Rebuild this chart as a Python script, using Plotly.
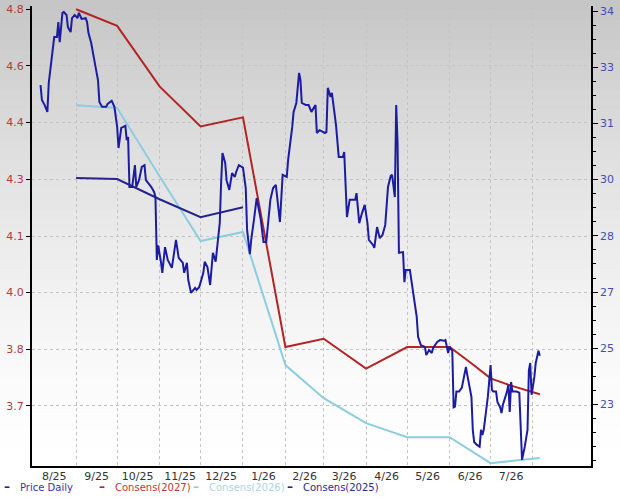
import plotly.graph_objects as go

# daily closing price (right axis)
price_dates = [
    "2025-08-06", "2025-08-07", "2025-08-09", "2025-08-11", "2025-08-12", "2025-08-14", "2025-08-16",
    "2025-08-18", "2025-08-19", "2025-08-20", "2025-08-22", "2025-08-23", "2025-08-25", "2025-08-26",
    "2025-08-28", "2025-08-29", "2025-08-31", "2025-09-02", "2025-09-03", "2025-09-05", "2025-09-08",
    "2025-09-09", "2025-09-10", "2025-09-12", "2025-09-15", "2025-09-16", "2025-09-17", "2025-09-18",
    "2025-09-20", "2025-09-23", "2025-09-24", "2025-09-27", "2025-09-29", "2025-10-01", "2025-10-02",
    "2025-10-04", "2025-10-07", "2025-10-08", "2025-10-09", "2025-10-10", "2025-10-12", "2025-10-14",
    "2025-10-15", "2025-10-17", "2025-10-19", "2025-10-21", "2025-10-22", "2025-10-26", "2025-10-28",
    "2025-10-29", "2025-10-30", "2025-10-31", "2025-11-02", "2025-11-03", "2025-11-05", "2025-11-07",
    "2025-11-10", "2025-11-13", "2025-11-15", "2025-11-18", "2025-11-19", "2025-11-21", "2025-11-22",
    "2025-11-24", "2025-11-27", "2025-11-28", "2025-11-30", "2025-12-03", "2025-12-04", "2025-12-06",
    "2025-12-08", "2025-12-10", "2025-12-12", "2025-12-13", "2025-12-15", "2025-12-16", "2025-12-17",
    "2025-12-19", "2025-12-20", "2025-12-22", "2025-12-24", "2025-12-26", "2025-12-27", "2025-12-29",
    "2026-01-01", "2026-01-03", "2026-01-04", "2026-01-06", "2026-01-07", "2026-01-09", "2026-01-11",
    "2026-01-14", "2026-01-16", "2026-01-18", "2026-01-21", "2026-01-23", "2026-01-25", "2026-01-28",
    "2026-01-30", "2026-02-02", "2026-02-03", "2026-02-06", "2026-02-07", "2026-02-09", "2026-02-11",
    "2026-02-12", "2026-02-13", "2026-02-16", "2026-02-18", "2026-02-20", "2026-02-23", "2026-02-24",
    "2026-02-26", "2026-03-02", "2026-03-03", "2026-03-04", "2026-03-06", "2026-03-07", "2026-03-09",
    "2026-03-10", "2026-03-12", "2026-03-15", "2026-03-16", "2026-03-17", "2026-03-18", "2026-03-20",
    "2026-03-24", "2026-03-25", "2026-03-27", "2026-03-29", "2026-03-31", "2026-04-02", "2026-04-03",
    "2026-04-06", "2026-04-07", "2026-04-09", "2026-04-11", "2026-04-13", "2026-04-15", "2026-04-17",
    "2026-04-19", "2026-04-20", "2026-04-22", "2026-04-23", "2026-04-24", "2026-04-25", "2026-04-27",
    "2026-04-28", "2026-04-29", "2026-04-30", "2026-05-03", "2026-05-05", "2026-05-06", "2026-05-08",
    "2026-05-09", "2026-05-11", "2026-05-14", "2026-05-15", "2026-05-17", "2026-05-19", "2026-05-20",
    "2026-05-23", "2026-05-25", "2026-05-28", "2026-05-29", "2026-05-31", "2026-06-01", "2026-06-03",
    "2026-06-04", "2026-06-05", "2026-06-06", "2026-06-08", "2026-06-10", "2026-06-13", "2026-06-14",
    "2026-06-17", "2026-06-18", "2026-06-19", "2026-06-21", "2026-06-23", "2026-06-24", "2026-06-25",
    "2026-06-26", "2026-06-29", "2026-07-01", "2026-07-02", "2026-07-03", "2026-07-05", "2026-07-06",
    "2026-07-08", "2026-07-09", "2026-07-10", "2026-07-13", "2026-07-14", "2026-07-15", "2026-07-16",
    "2026-07-17", "2026-07-20", "2026-07-22", "2026-07-23", "2026-07-24", "2026-07-26", "2026-07-28",
    "2026-07-29", "2026-07-30", "2026-07-31", "2026-08-02", "2026-08-03", "2026-08-05", "2026-08-06",
]
price_values = [
    31.93, 31.51, 31.37, 31.18, 31.99, 32.71, 33.27,
    33.27, 33.69, 33.13, 33.95, 33.97, 33.89, 33.55,
    33.41, 33.80, 33.89, 33.80, 33.95, 33.78, 33.80,
    33.69, 33.39, 33.11, 32.55, 32.27, 32.07, 31.46,
    31.32, 31.32, 31.40, 31.49, 31.32, 30.76, 30.17,
    30.73, 30.79, 30.39, 30.48, 29.08, 29.08, 29.69,
    29.08, 29.27, 29.64, 29.69, 29.27, 29.08, 28.94,
    28.80, 27.04, 27.45, 26.99, 26.68, 27.40, 27.04,
    26.82, 27.60, 27.10, 26.96, 26.68, 26.96, 26.48,
    26.12, 26.26, 26.20, 26.28, 26.68, 26.99, 26.84,
    26.34, 27.24, 26.99, 27.32, 28.07, 29.19, 30.03,
    29.75, 29.27, 29.00, 29.47, 29.36, 29.50, 29.69,
    29.62, 29.05, 27.88, 27.20, 27.60, 28.16, 28.77,
    28.16, 27.54, 27.54, 28.72, 29.05, 29.14, 28.10,
    29.42, 29.36, 29.84, 30.76, 31.18, 31.43, 32.27,
    32.07, 31.43, 31.37, 31.37, 31.18, 31.37, 30.59,
    30.67, 30.59, 30.62, 31.85, 31.60, 31.71, 31.18,
    30.81, 29.92, 29.92, 30.06, 28.91, 28.24, 28.72,
    28.72, 28.91, 28.07, 28.35, 28.58, 28.07, 27.60,
    27.46, 27.38, 27.96, 27.65, 27.74, 28.02, 29.08,
    29.39, 29.42, 28.80, 31.37, 30.31, 27.24, 27.24,
    27.26, 26.42, 26.76, 26.76, 26.20, 26.00, 25.45,
    24.89, 24.66, 24.61, 24.38, 24.52, 24.44, 24.58,
    24.75, 24.80, 24.78, 24.80, 24.44, 24.62, 24.50,
    22.92, 22.94, 23.36, 23.36, 23.47, 24.05, 23.82,
    23.21, 22.29, 21.95, 21.87, 21.82, 22.29, 22.15,
    22.29, 23.21, 24.10, 23.41, 23.36, 23.36, 23.07,
    22.92, 22.76, 22.99, 23.36, 23.55, 22.79, 23.63,
    23.36, 23.36, 23.33, 22.37, 21.45, 21.82, 22.29,
    23.96, 24.16, 23.27, 23.77, 24.16, 24.50, 24.36,
]

# consensus EPS estimates (left axis)
cons2027_dates = ["2025-09-01", "2025-10-01", "2025-11-01", "2025-12-01", "2026-01-01", "2026-02-01",
                  "2026-03-01", "2026-04-01", "2026-05-01", "2026-06-01", "2026-06-16", "2026-07-01",
                  "2026-07-16", "2026-08-01", "2026-08-06"]
cons2027_values = [4.800, 4.754, 4.586, 4.475, 4.500, 3.863, 3.886, 3.803, 3.863, 3.863, 3.821, 3.776,
                   3.756, 3.738, 3.732]

cons2026_dates = ["2025-09-01", "2025-10-01", "2025-11-01", "2025-12-01", "2026-01-01", "2026-02-01",
                  "2026-03-01", "2026-04-01", "2026-05-01", "2026-06-01", "2026-07-01", "2026-08-06"]
cons2026_values = [4.534, 4.526, 4.337, 4.157, 4.182, 3.813, 3.721, 3.652, 3.613, 3.613, 3.541, 3.555]

cons2025_dates = ["2025-09-01", "2025-10-01", "2025-11-01", "2025-12-01", "2026-01-01"]
cons2025_values = [4.332, 4.329, 4.273, 4.223, 4.251]

# axis ticks (labels as printed on the chart)
eps_tickvals = [3.7, 3.857, 4.014, 4.171, 4.329, 4.486, 4.643, 4.8]
eps_ticktext = ["3.7", "3.8", "4.0", "4.1", "4.3", "4.4", "4.6", "4.8"]
price_tickvals = [23, 24.571, 26.143, 27.714, 29.286, 30.857, 32.429, 34]
price_ticktext = ["23", "25", "27", "28", "30", "31", "33", "34"]
month_starts = ["2025-09-01", "2025-10-01", "2025-11-01", "2025-12-01", "2026-01-01", "2026-02-01",
                "2026-03-01", "2026-04-01", "2026-05-01", "2026-06-01", "2026-07-01", "2026-08-01"]
month_mids = ["2025-08-16", "2025-09-16", "2025-10-16", "2025-11-16", "2025-12-16", "2026-01-16",
              "2026-02-15", "2026-03-16", "2026-04-16", "2026-05-16", "2026-06-16", "2026-07-16"]
month_labels = ["8/25", "9/25", "10/25", "11/25", "12/25", "1/26", "2/26", "3/26", "4/26", "5/26",
                "6/26", "7/26"]

W, H = 620, 499
ml, mr, mt, mb = 32, 29, 6, 33
ph = H - mt - mb
pw = W - ml - mr

fig = go.Figure()
fig.add_trace(go.Scatter(x=price_dates, y=price_values, mode="lines", name="Price Daily",
                         yaxis="y2", line=dict(color="#1c1ca2", width=2)))
fig.add_trace(go.Scatter(x=cons2027_dates, y=cons2027_values, mode="lines", name="Consens(2027)",
                         line=dict(color="#b32424", width=2)))
fig.add_trace(go.Scatter(x=cons2026_dates, y=cons2026_values, mode="lines", name="Consens(2026)",
                         line=dict(color="#8ecde0", width=2)))
fig.add_trace(go.Scatter(x=cons2025_dates, y=cons2025_values, mode="lines", name="Consens(2025)",
                         line=dict(color="#24248a", width=2)))

# grey-to-white background, drawn as thin bands
shapes = []
n = 50
for i in range(n):
    p0 = i * H / n
    p1 = (i + 1) * H / n + 1
    t = max(0.0, 1 - (p0 + p1) / 2 / 470)
    c = int(round(255 - 58 * t ** 1.5))
    shapes.append(dict(type="rect", xref="paper", yref="paper", layer="below",
                       x0=-ml / pw - 0.01, x1=1 + mr / pw + 0.01,
                       y0=(H - mb - p1) / ph, y1=(H - mb - p0) / ph,
                       line=dict(width=0), fillcolor=f"rgb({c},{c},{c})"))

# legend written as text under the axis: coloured dash + coloured name
legend_items = [("Price Daily", "#1c1ca2", "#3636a8", 3),
                ("Consens(2027)", "#b32424", "#c03838", 98),
                ("Consens(2026)", "#8ecde0", "#a9d6e6", 192),
                ("Consens(2025)", "#24248a", "#2a2a88", 286)]
annotations = []
for label, lc, tc, px in legend_items:
    annotations.append(dict(xref="paper", yref="paper", x=(px - ml) / pw, y=(H - mb - 487) / ph,
                            xanchor="left", yanchor="middle", showarrow=False, borderpad=0,
                            text=f"<b><span style='color:{lc};font-size:12px'>–</span></b>\u2003{label}",
                            font=dict(family="DejaVu Sans", size=10, color=tc)))

fig.update_layout(
    width=W, height=H,
    margin=dict(l=ml, r=mr, t=mt, b=mb, autoexpand=False),
    paper_bgcolor="white", plot_bgcolor="rgba(0,0,0,0)",
    showlegend=False,
    shapes=shapes, annotations=annotations,
    font=dict(family="DejaVu Sans", size=11),
    xaxis=dict(
        type="date", range=["2025-07-30 18:00", "2026-09-12 10:00"], automargin=False,
        tickmode="array", tickvals=month_mids, ticktext=month_labels,
        ticks="", showgrid=False, tickfont=dict(color="#333333", size=11),
        ticklabelstandoff=-1,
        showline=True, linecolor="black", linewidth=2,
        minor=dict(tickmode="array", tickvals=month_starts, showgrid=True,
                   gridcolor="#c4c4c4", griddash="dot", gridwidth=1, ticks=""),
        zeroline=False,
    ),
    yaxis=dict(
        range=[3.533, 4.809], tickmode="array", tickvals=eps_tickvals, ticktext=eps_ticktext,
        automargin=False,
        ticks="outside", ticklen=4, tickcolor="black", tickwidth=1,
        tickfont=dict(color="#b03c3c", size=11),
        showline=True, linecolor="black", linewidth=2,
        showgrid=True, gridcolor="#c4c4c4", griddash="dot", gridwidth=1, zeroline=False,
    ),
    yaxis2=dict(
        overlaying="y", side="right", range=[21.28, 34.14], automargin=False,
        tickmode="array", tickvals=price_tickvals, ticktext=price_ticktext,
        ticks="outside", ticklen=5, tickcolor="black", tickwidth=1,
        tickfont=dict(color="#4a4aae", size=11),
        minor=dict(tickmode="linear", tick0=23, dtick=11 / 28, ticks="outside", ticklen=3,
                   tickcolor="black", showgrid=False),
        showline=True, linecolor="black", linewidth=1.5,
        showgrid=False, zeroline=False,
    ),
)

# page body has a default margin, take it off so the chart sits at the window corner
fig.write_html("out.html", config={"displayModeBar": False},
               post_script="document.body.style.margin='0';")
